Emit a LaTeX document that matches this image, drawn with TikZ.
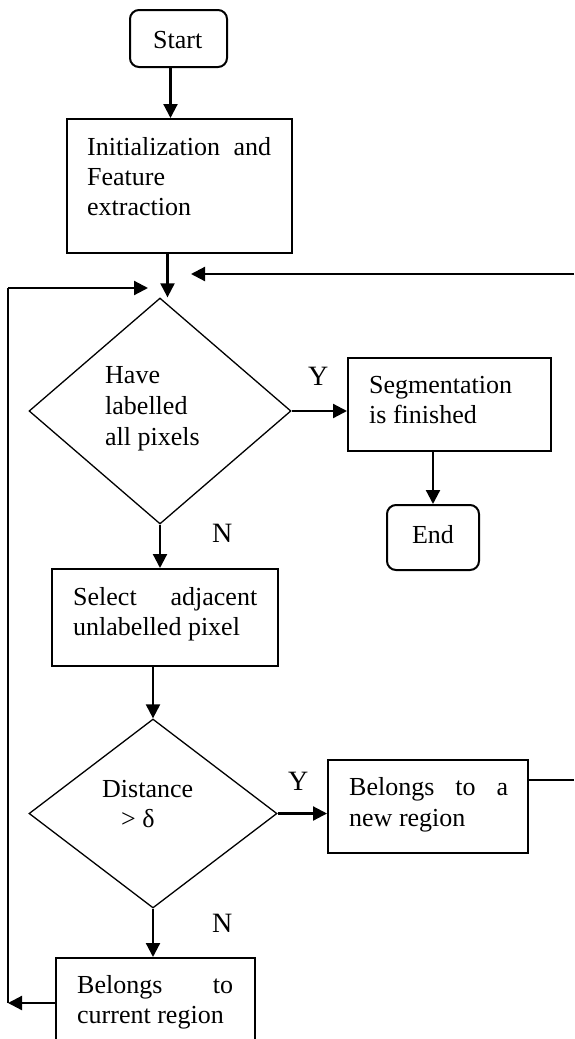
\documentclass[tikz,border=0pt]{standalone}
\usepackage{fontspec}
\setmainfont{Liberation Serif}
\usetikzlibrary{arrows.meta,shapes.geometric,calc}
\tikzset{
  box/.style={draw, line width=2pt, rectangle, inner sep=0pt},
  term/.style={draw, line width=2pt, rectangle, rounded corners=9pt, inner sep=0pt},
  dec/.style={draw, line width=1.3pt, diamond, inner sep=0pt},
  txt/.style={inner sep=0pt, anchor=base west, font=\fontsize{26}{30}\selectfont},
  lbl/.style={inner sep=0pt, anchor=base west, font=\fontsize{28}{30}\selectfont},
  arr/.style={line width=2.2pt, -{Triangle[length=14pt,width=14pt]}},
  ln/.style={line width=2.2pt}
}
\begin{document}
\begin{tikzpicture}[x=1pt,y=-1pt]
\useasboundingbox (0,0) rectangle (574,1039);
\clip (0,0) rectangle (574,1039);
% shapes
\node[term, minimum width=97pt, minimum height=57pt] (start) at (178.5,38.5) {};
\node[txt] (tstart) at (153,48) {Start};
\node[box, minimum width=225pt, minimum height=134pt] (init) at (179.5,186) {};
\node[txt] (ti1) at (87,155) {\makebox[184pt][s]{Initialization and}};
\node[txt] (ti2) at (87,185) {Feature};
\node[txt] (ti3) at (87,215) {extraction};
\node[dec, minimum width=262pt, minimum height=226pt] (d1) at (160,411) {};
\node[txt] (td1) at (105,383) {Have};
\node[txt] (td2) at (105,414) {labelled};
\node[txt] (td3) at (105,445) {all pixels};
\node[box, minimum width=203pt, minimum height=93pt] (seg) at (449.5,404.5) {};
\node[txt] (ts1) at (369,393) {Segmentation};
\node[txt] (ts2) at (369,423) {is finished};
\node[term, minimum width=92pt, minimum height=65pt] (end) at (433,537.5) {};
\node[txt, anchor=base] (tend) at (433,543) {End};
\node[box, minimum width=226pt, minimum height=97pt] (sel) at (165,617.5) {};
\node[txt] (tsel1) at (73,605) {\makebox[184pt][s]{Select adjacent}};
\node[txt] (tsel2) at (73,635) {unlabelled pixel};
\node[dec, minimum width=248pt, minimum height=189pt] (d2) at (153,813.5) {};
\node[txt] (tdd1) at (102,797) {Distance};
\node[txt] (tdd2) at (121,827) {> δ};
\node[box, minimum width=200pt, minimum height=93pt] (nr) at (428,806.5) {};
\node[txt] (tnr1) at (349,795) {\makebox[159pt][s]{Belongs to a}};
\node[txt] (tnr2) at (349,826) {new region};
\node[box, minimum width=199pt, minimum height=102pt] (curr) at (155.5,1009) {};
\node[txt] (tc1) at (77,993) {\makebox[156pt][s]{Belongs to}};
\node[txt] (tc2) at (77,1023) {current region};
% labels
\node[lbl] (y1) at (308,385) {Y};
\node[lbl] (n1) at (212,542) {N};
\node[lbl] (y2) at (288,790) {Y};
\node[lbl] (n2) at (212,932) {N};
% loop coordinates
\coordinate (lb) at (8,1003);
\coordinate (lt) at (8,288);
\coordinate (ltip) at (148,288);
\coordinate (rin) at (574,274);
\coordinate (rtip) at (191,274);
\coordinate (rout) at (574,780);
% connectors
\draw[arr] ([xshift=-8pt]start.south) -- ([xshift=-8pt]start.south |- init.north);
\draw[arr] ([xshift=-12pt]init.south) -- ([xshift=-12pt]init.south |- d1.north);
\draw[arr] (d1.east) -- (d1.east -| seg.west);
\draw[arr] (end.north |- seg.south) -- (end.north);
\draw[arr] (d1.south) -- (d1.south |- sel.north);
\draw[arr] (d2.north |- sel.south) -- (d2.north);
\draw[arr] (d2.east) -- (d2.east -| nr.west);
\draw[arr] (d2.south) -- (d2.south |- curr.north);
\draw[arr] (curr.west |- lb) -- (lb);
\draw[ln] (lb) -- (lt);
\draw[arr] (lt) -- (ltip);
\draw[arr] (rin) -- (rtip);
\draw[ln] (nr.east |- rout) -- (rout);
\end{tikzpicture}
\end{document}
